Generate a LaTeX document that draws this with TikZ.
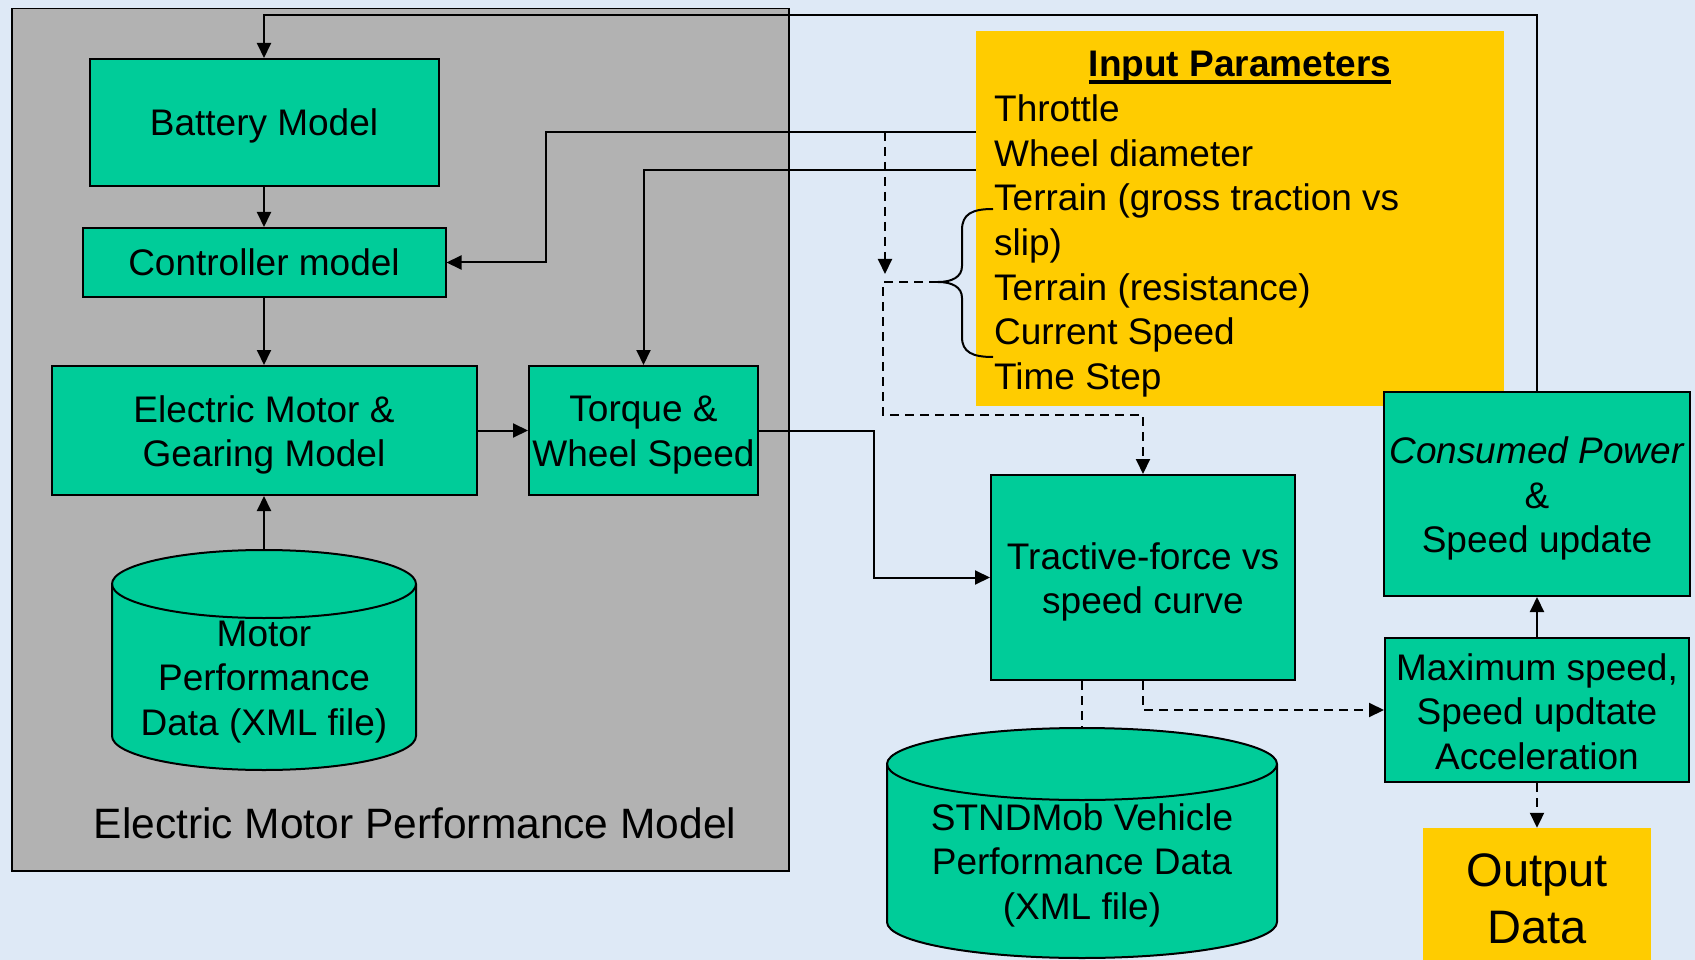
\documentclass[tikz,border=0pt]{standalone}
\usepackage{fontspec}
\setmainfont{Liberation Sans}
\usetikzlibrary{arrows.meta}
\definecolor{paper}{HTML}{DEE9F6}
\definecolor{panel}{HTML}{B2B2B2}
\definecolor{mint}{HTML}{00CC99}
\definecolor{amber}{HTML}{FFCC00}
% strut with the font's ascent and descent, so text blocks centre like slide text
\newcommand{\ppstrut}{\rule[-0.212em]{0pt}{1.117em}}

\begin{document}
\begin{tikzpicture}[x=1pt,y=-1pt,
  txt/.style={font=\fontsize{37}{44.5}\selectfont, align=center, inner sep=0pt,
              execute at begin node=\ppstrut, execute at end node=\ppstrut},
  box/.style={txt, draw=black, line width=2pt, fill=mint},
  conn/.style={line width=2pt, draw=black},
  arr/.style={conn, -{Triangle[length=15pt,width=14pt]}},
  dsh/.style={dash pattern=on 9pt off 6pt},
  drum/.style={fill=mint, draw=black, line width=2pt},
]
\useasboundingbox (0,0) rectangle (1695,960);
\fill[paper] (0,0) rectangle (1695,960);

% grey model panel and yellow parameter panel
\node[draw=black, line width=1.5pt, fill=panel, minimum width=777pt,
      minimum height=862pt, anchor=north west, inner sep=0pt] (panel) at (11,8) {};
\node[fill=amber, minimum width=528pt, minimum height=375pt,
      anchor=north west, inner sep=0pt] (inp) at (976,31) {};

% parameter list
\node[txt, font={\fontsize{37}{44.5}\selectfont\bfseries}, anchor=base] (ttl) at (1240,77) {Input Parameters};
\draw[line width=3.5pt] ([yshift=-5pt]ttl.base west) -- ([yshift=-5pt]ttl.base east);
\foreach \t [count=\i] in {{Throttle},{Wheel diameter},{Terrain (gross traction vs},{slip)},{Terrain (resistance)},{Current Speed},{Time Step}}
  \node[txt, anchor=base west] (par\i) at (994,{122+44.5*(\i-1)}) {\t};

% brace grouping the terrain and speed entries
\draw[line width=2pt] (993,209) .. controls (972,209) and (962,214) .. (962,230)
  -- (962,266) .. controls (962,277) and (952,282) .. (938,282)
  .. controls (952,282) and (962,287) .. (962,298)
  -- (962,337) .. controls (962,352) and (972,357) .. (993,357);
\coordinate (brtip) at (938,282);
\coordinate (thr) at (976,132);
\coordinate (whl) at (976,170.5);
\coordinate (dsrc) at (885,132);
\coordinate (dend) at (885,274);

% databases
\filldraw[drum] (112,584) -- (112,736) arc[start angle=180, end angle=0, x radius=152, y radius=34]
  -- (416,584) arc[start angle=0, end angle=-180, x radius=152, y radius=34] -- cycle;
\draw[line width=2pt] (112,584) arc[start angle=180, end angle=0, x radius=152, y radius=34];
\node[txt] (mdata) at (264,682) {Motor\\Performance\\Data (XML file)};
\coordinate (mtop) at (264,550);

\filldraw[drum] (887,764) -- (887,922) arc[start angle=180, end angle=0, x radius=195, y radius=36]
  -- (1277,764) arc[start angle=0, end angle=-180, x radius=195, y radius=36] -- cycle;
\draw[line width=2pt] (887,764) arc[start angle=180, end angle=0, x radius=195, y radius=36];
\node[txt] (sdata) at (1082,865.5) {STNDMob Vehicle\\Performance Data\\(XML file)};
\coordinate (stop) at (1082,728);

% process blocks (multi-line captions are set as separate nodes)
\node[box, minimum width=349pt, minimum height=127pt] (bat) at (264,122.5) {Battery Model};
\node[box, minimum width=363pt, minimum height=69pt] (ctrl) at (264,262.5) {Controller model};
\node[box, minimum width=425pt, minimum height=129pt] (mot) at (264,430.5) {};
\node[txt] (mot-t) at ([yshift=-4.5pt]mot.center) {Electric Motor \&\\Gearing Model};
\node[box, minimum width=229pt, minimum height=129pt] (tq) at (643.5,430.5) {};
\node[txt] (tq-t) at ([yshift=-4.5pt]tq.center) {Torque \&\\Wheel Speed};
\node[box, minimum width=304pt, minimum height=205pt] (trac) at (1143,577.5) {};
\node[txt] (trac-t) at ([yshift=-4.5pt]trac.center) {Tractive-force vs\\speed curve};
\node[box, minimum width=306pt, minimum height=204pt] (cons) at (1537,494) {};
\node[txt] (cons-t) at ([yshift=-5pt]cons.center) {\textit{Consumed Power}\\\&\\Speed update};
\node[box, minimum width=304pt, minimum height=144pt] (max) at (1537,710) {};
\node[txt] (max-t) at ([yshift=-5.5pt]max.center) {Maximum speed,\\Speed updtate\\Acceleration};
\node[fill=amber, minimum width=228pt, minimum height=132pt, inner sep=0pt] (out) at (1537,894) {};
\node[txt, font=\fontsize{47}{57}\selectfont] (out-t) at (1537,904) {Output\\Data};
\node[txt, font=\fontsize{42.5}{50}\selectfont] (lbl) at (415,824) {Electric Motor Performance Model};

% connectors
\draw[arr] (cons.north) -- ++(0,-376) -| (bat.north);
\draw[arr] (thr) -- (546,132) |- (ctrl.east);
\draw[arr] (whl) -| (tq.north);
\draw[arr, dsh] (dsrc) -- (dend);
\draw[arr, dsh] (brtip) -- (883,282) -- (883,415) -| (trac.north);
\draw[arr] (bat.south) -- (ctrl.north);
\draw[arr] (ctrl.south) -- (mot.north);
\draw[arr] (mtop) -- (mot.south);
\draw[arr] (mot.east) -- (tq.west);
\draw[arr] (tq.east) -- (874,430.5) |- (trac.west);
\draw[arr, dsh] (trac.south) |- (max.west);
\draw[conn, dsh] (trac.south -| stop) -- (stop);
\draw[arr] (max.north) -- (cons.south);
\draw[arr, dsh] (max.south) -- (out.north);
\end{tikzpicture}
\end{document}
